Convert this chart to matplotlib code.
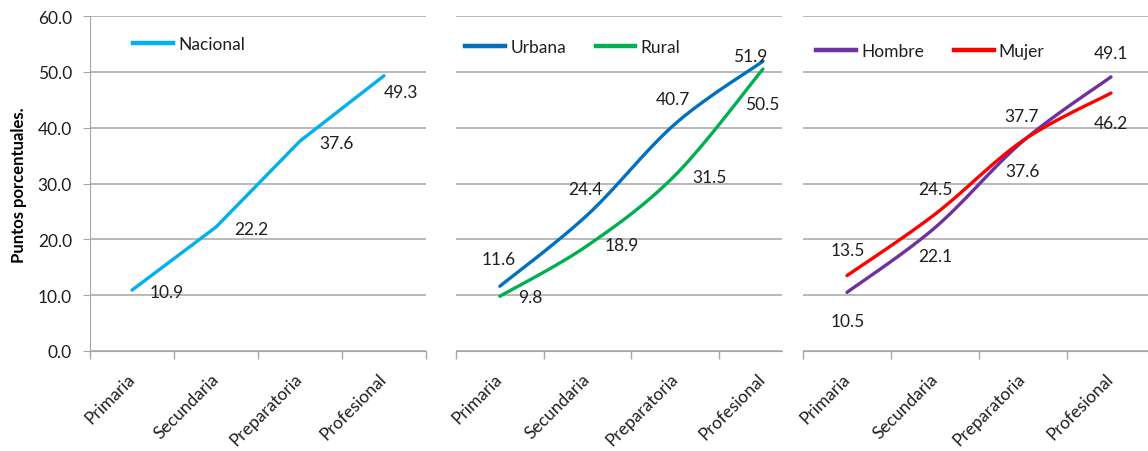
import numpy as np
import matplotlib
matplotlib.use('Agg')
import matplotlib.pyplot as plt
from matplotlib.lines import Line2D

plt.rcParams['font.family'] = ['Lato', 'DejaVu Sans']

# datos
categorias = ['Primaria', 'Secundaria', 'Preparatoria', 'Profesional']
nacional = [10.9, 22.2, 37.6, 49.3]
urbana = [11.6, 24.4, 40.7, 51.9]
rural = [9.8, 18.9, 31.5, 50.5]
hombre = [10.5, 22.1, 37.6, 49.1]
mujer = [13.5, 24.5, 37.7, 46.2]

# colores estilo Excel
c_nac = '#00B0F0'
c_urb = '#0070C0'
c_rur = '#00B050'
c_hom = '#7030A0'
c_muj = '#FF0000'
c_grid = '#A6A6A6'
c_txt = '#1F1F1F'
fs = 12.5

W, H = 1148, 452


def suavizar(ys, n=40):
    # curva suavizada tipo Excel (Bezier / Catmull-Rom)
    pts = np.column_stack([np.arange(len(ys), dtype=float), np.asarray(ys, float)])
    out = []
    for i in range(len(pts) - 1):
        p0 = pts[i - 1] if i > 0 else pts[i]
        p1, p2 = pts[i], pts[i + 1]
        p3 = pts[i + 2] if i + 2 < len(pts) else pts[i + 1]
        c1 = p1 + (p2 - p0) / 6
        c2 = p2 - (p3 - p1) / 6
        t = np.linspace(0, 1, n)[:, None]
        seg = (1 - t) ** 3 * p1 + 3 * (1 - t) ** 2 * t * c1 + 3 * (1 - t) * t ** 2 * c2 + t ** 3 * p2
        out.append(seg if i == 0 else seg[1:])
    return np.vstack(out)


def panel(left_px, width_px, xmax, show_y):
    ax = fig.add_axes([left_px / W, (H - 352) / H, width_px / W, 335 / H])
    for s in ['top', 'right']:
        ax.spines[s].set_visible(False)
    ax.spines['bottom'].set_color(c_grid)
    ax.spines['left'].set_color(c_grid)
    ax.spines['left'].set_visible(show_y)
    ax.set_yticks(np.arange(0, 61, 10))
    ax.yaxis.grid(True, color=c_grid, lw=1.1)
    ax.set_axisbelow(True)
    if show_y:
        ax.set_yticklabels([f'{v:.1f}' for v in range(0, 61, 10)])
        ax.tick_params(axis='y', length=5, color=c_grid, pad=8, labelsize=fs, labelcolor=c_txt)
    else:
        ax.tick_params(axis='y', length=0, labelleft=False)
    # marcas en los limites de categoria
    ax.set_xticks(np.arange(-0.5, 4, 1.0))
    ax.set_xticklabels([])
    ax.tick_params(axis='x', which='major', length=6, color=c_grid, width=1)
    ax.set_xticks(range(len(categorias)), minor=True)
    ax.set_xticklabels(categorias, minor=True, rotation=45, ha='right', va='center',
                       rotation_mode='anchor', fontsize=fs, color=c_txt)
    ax.tick_params(axis='x', which='minor', length=0, pad=18)
    ax.set_xlim(-0.5, xmax)
    ax.set_ylim(0, 60)
    return ax


def etiquetas(ax, ys, offsets):
    for i, (v, off) in enumerate(zip(ys, offsets)):
        ax.annotate(f'{v:.1f}', (i, v), xytext=off, textcoords='offset pixels',
                    ha='center', va='center', fontsize=fs, color=c_txt)


def serie(ax, ys, color, offsets, suave=True):
    if suave:
        cur = suavizar(ys)
        ax.plot(cur[:, 0], cur[:, 1], color=color, lw=2.4, solid_capstyle='round', clip_on=False)
    else:
        ax.plot(range(len(ys)), ys, color=color, lw=2.4, solid_capstyle='round',
                solid_joinstyle='round', clip_on=False)
    etiquetas(ax, ys, offsets)


def leyenda(ax, nombres, colores, pos):
    hs = [Line2D([], [], color=c, lw=3.2) for c in colores]
    ax.legend(hs, nombres, loc='center left', bbox_to_anchor=pos, frameon=False, ncol=2,
              handlelength=2.3, handletextpad=0.3, columnspacing=1.7, borderpad=0,
              borderaxespad=0, fontsize=fs, labelcolor=c_txt)


fig = plt.figure(figsize=(W / 100, H / 100), dpi=100)

ax1 = panel(90, 336, 3.5, True)
serie(ax1, nacional, c_nac, [(35, -2), (35, -2), (36, -2), (17, -16)], suave=False)
leyenda(ax1, ['Nacional'], [c_nac], (0.128, 0.916))

ax2 = panel(456, 326, -0.5 + 326 / 87.7, False)
serie(ax2, urbana, c_urb, [(-1, 27), (-2, 26), (-2, 25), (-13, 5)])
serie(ax2, rural, c_rur, [(30, -1), (34, 0), (34, -2), (-1, -35)])
leyenda(ax2, ['Urbana', 'Rural'], [c_urb, c_rur], (0.028, 0.907))

ax3 = panel(803, 345, -0.5 + 345 / 88.0, False)
serie(ax3, hombre, c_hom, [(1, -29), (0, -28), (-1, -30), (0, 24)])
serie(ax3, mujer, c_muj, [(1, 26), (0, 25), (-1, 25), (0, -30)])
leyenda(ax3, ['Hombre', 'Mujer'], [c_hom, c_muj], (0.038, 0.896))

fig.text(19 / W, 1 - 185 / H, 'Puntos porcentuales.', rotation=90, ha='center', va='center',
         fontsize=12, fontweight='bold', color='black')

fig.savefig('out.png', dpi=100)
